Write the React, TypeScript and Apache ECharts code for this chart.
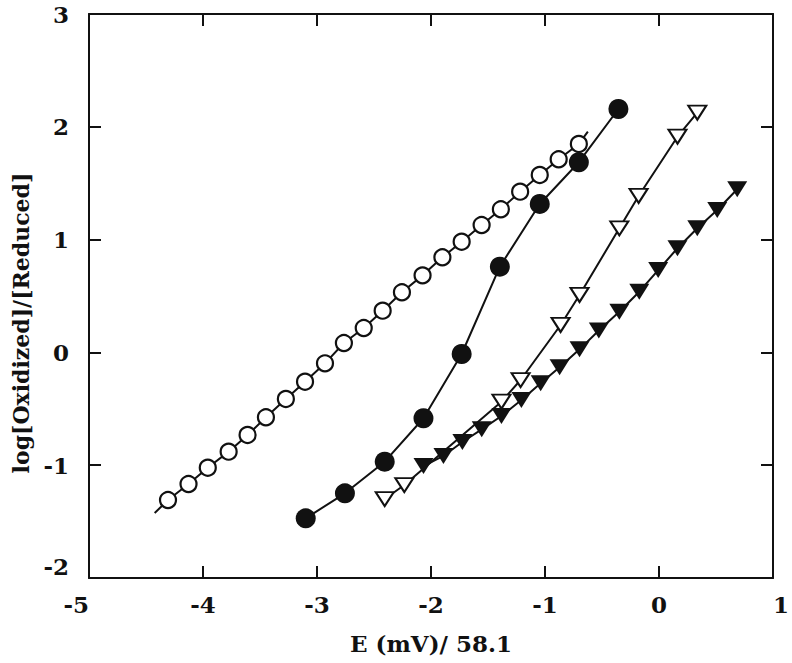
import React, { useEffect, useRef } from "react";
import * as echarts from "echarts";

// ---- data ----
const xTicks = [-5, -4, -3, -2, -1, 0, 1];
const yTicks = [-2, -1, 0, 1, 2, 3];

const openCircles: [number, number][] = [
  [-4.307, -1.309], [-4.127, -1.167], [-3.958, -1.022], [-3.775, -0.88],
  [-3.609, -0.732], [-3.448, -0.575], [-3.273, -0.413], [-3.105, -0.26],
  [-2.93, -0.097], [-2.764, 0.083], [-2.59, 0.216], [-2.424, 0.37],
  [-2.255, 0.533], [-2.074, 0.683], [-1.9, 0.843], [-1.731, 0.981],
  [-1.556, 1.129], [-1.387, 1.269], [-1.218, 1.425], [-1.046, 1.573],
  [-0.88, 1.712], [-0.703, 1.848],
];
// the line through the open circles runs a little past both ends
const openCircleLineStart: [number, number] = [-4.424, -1.424];
const openCircleLineEnd: [number, number] = [-0.624, 1.957];

const filledCircles: [number, number][] = [
  [-3.099, -1.471], [-2.755, -1.249], [-2.406, -0.969], [-2.066, -0.584],
  [-1.731, -0.014], [-1.396, 0.76], [-1.046, 1.316], [-0.703, 1.686],
  [-0.356, 2.158],
];

const openTriangles: [number, number][] = [
  [-2.406, -1.3], [-2.234, -1.176], [-1.382, -0.437], [-1.214, -0.245],
  [-0.863, 0.243], [-0.697, 0.509], [-0.348, 1.1], [-0.179, 1.387],
  [0.162, 1.912], [0.336, 2.125],
];

const filledTriangles: [number, number][] = [
  [-2.066, -1.007], [-1.891, -0.918], [-1.725, -0.794], [-1.555, -0.682],
  [-1.382, -0.564], [-1.207, -0.422], [-1.038, -0.274], [-0.872, -0.132],
  [-0.697, 0.027], [-0.528, 0.194], [-0.348, 0.361], [-0.173, 0.538],
  [-0.007, 0.73], [0.162, 0.923], [0.336, 1.1], [0.511, 1.262],
  [0.686, 1.446],
];

const xTitle = "E (mV)/ 58.1";
const yTitle = "log[Oxidized]/[Reduced]";

const FONT = "'DejaVu Serif', 'Liberation Serif', serif";
const INK = "#111";

export default function App() {
  const ref = useRef<HTMLDivElement>(null);

  useEffect(() => {
    if (!ref.current) return;
    const chart = echarts.init(ref.current, undefined, { renderer: "svg" });

    const labelStyle = {
      fontFamily: FONT,
      fontWeight: "bold" as const,
      fontSize: 23,
      color: INK,
    };
    const axisLine = { show: true, onZero: false, lineStyle: { color: INK, width: 2 } };
    const axisTick = { show: true, inside: true, length: 12, lineStyle: { color: INK, width: 2 } };

    const lineSeries = (name: string, data: [number, number][]) => ({
      name: name + " line",
      type: "line",
      data,
      showSymbol: false,
      symbol: "none",
      lineStyle: { color: INK, width: 2 },
      z: 2,
      silent: true,
    });

    chart.setOption({
      animation: false,
      backgroundColor: "#fff",
      grid: { left: 89, right: 16, top: 14, bottom: 85, containLabel: false },
      xAxis: [
        {
          type: "value",
          min: xTicks[0],
          max: xTicks[xTicks.length - 1],
          interval: 1,
          position: "bottom",
          axisLine,
          axisTick,
          splitLine: { show: false },
          axisLabel: {
            ...labelStyle,
            margin: 15,
            alignMinLabel: "right",
            alignMaxLabel: "left",
          },
          name: xTitle,
          nameLocation: "middle",
          nameGap: 54,
          nameTextStyle: { ...labelStyle },
        },
        {
          type: "value",
          min: xTicks[0],
          max: xTicks[xTicks.length - 1],
          interval: 1,
          position: "top",
          axisLine,
          axisTick,
          splitLine: { show: false },
          axisLabel: { show: false },
        },
      ],
      yAxis: [
        {
          type: "value",
          min: yTicks[0],
          max: yTicks[yTicks.length - 1],
          interval: 1,
          position: "left",
          axisLine,
          axisTick,
          splitLine: { show: false },
          axisLabel: {
            ...labelStyle,
            margin: 20,
            verticalAlignMinLabel: "bottom",
          },
        },
        {
          type: "value",
          min: yTicks[0],
          max: yTicks[yTicks.length - 1],
          interval: 1,
          position: "right",
          axisLine,
          axisTick,
          splitLine: { show: false },
          axisLabel: { show: false },
        },
      ],
      graphic: [
        {
          type: "text",
          x: 21,
          y: 323,
          rotation: Math.PI / 2,
          style: {
            text: yTitle,
            font: `bold 22px ${FONT}`,
            fill: INK,
            align: "center",
            verticalAlign: "middle",
            textAlign: "center",
            textVerticalAlign: "middle",
          },
        },
      ],
      series: [
        lineSeries("open circles", [openCircleLineStart, ...openCircles, openCircleLineEnd]),
        lineSeries("filled circles", filledCircles),
        lineSeries("open triangles", openTriangles),
        lineSeries("filled triangles", filledTriangles),
        {
          name: "open circles",
          type: "scatter",
          data: openCircles,
          symbol: "circle",
          symbolSize: 16,
          itemStyle: { color: "#fff", borderColor: INK, borderWidth: 2.2, opacity: 1 },
          z: 3,
        },
        {
          name: "filled circles",
          type: "scatter",
          data: filledCircles,
          symbol: "circle",
          symbolSize: 20,
          itemStyle: { color: INK, opacity: 1 },
          z: 4,
        },
        {
          name: "open triangles",
          type: "scatter",
          data: openTriangles,
          symbol: "triangle",
          symbolRotate: 180,
          symbolSize: [18, 14],
          itemStyle: { color: "#fff", borderColor: INK, borderWidth: 2, opacity: 1 },
          z: 5,
        },
        {
          name: "filled triangles",
          type: "scatter",
          data: filledTriangles,
          symbol: "triangle",
          symbolRotate: 180,
          symbolSize: [20, 16],
          itemStyle: { color: INK, opacity: 1 },
          z: 6,
        },
      ],
    });

    return () => chart.dispose();
  }, []);

  return (
    <div
      ref={ref}
      style={{ position: "fixed", left: 0, top: 0, width: 792, height: 663, background: "#fff" }}
    />
  );
}
